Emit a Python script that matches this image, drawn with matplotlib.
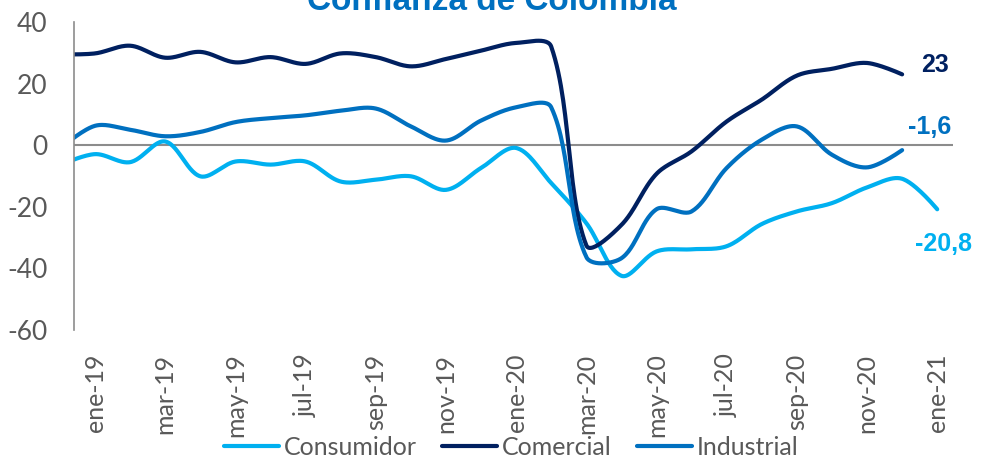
import numpy as np
import matplotlib
matplotlib.use("Agg")
import matplotlib.pyplot as plt

# indices de confianza (balance %), dic-18 queda recortado por el eje
meses = ['dic-18', 'ene-19', 'feb-19', 'mar-19', 'abr-19', 'may-19', 'jun-19',
         'jul-19', 'ago-19', 'sep-19', 'oct-19', 'nov-19', 'dic-19', 'ene-20',
         'feb-20', 'mar-20', 'abr-20', 'may-20', 'jun-20', 'jul-20', 'ago-20',
         'sep-20', 'oct-20', 'nov-20', 'dic-20', 'ene-21']
consumidor = [-6.5, -2.9, -5.5, 1.2, -10.1, -5.3, -6.3, -5.3, -11.8, -11.2,
              -10.1, -14.5, -7.4, -0.9, -12.3, -25.3, -42.4, -34.5, -33.8,
              -32.8, -25.6, -21.5, -18.8, -13.7, -10.9, -20.8]
comercial = [29.5, 29.8, 32.3, 28.4, 30.3, 26.9, 28.6, 26.4, 29.8, 28.6,
             25.6, 28.0, 30.7, 33.2, 32.0, -32.5, -25.9, -9.3, -2.0, 7.7,
             14.8, 22.6, 24.8, 26.7, 23.0]
industrial = [-1.2, 6.3, 5.0, 2.9, 4.3, 7.5, 8.8, 9.7, 11.2, 11.9, 6.1, 1.5,
              8.0, 12.3, 12.3, -36.3, -36.7, -20.8, -21.5, -7.4, 1.8, 6.1,
              -3.1, -7.2, -1.6]
etiquetas_fin = ['-20,8', '23', '-1,6']

C_CONS = '#00B0F0'
C_COM = '#002060'
C_IND = '#0070C0'
GRIS = '#595959'

PX_X, PX_Y = 35.1, 3.08   # pixeles por mes / por punto, para medir distancias


def suavizar(x, y, n=30, k=0.5):
    # bezier tipo Excel: tangente proporcional a la longitud de cada tramo
    p = np.column_stack([x, y]).astype(float)
    esc = np.array([PX_X, PX_Y])

    def dist(a, b):
        return np.hypot(*((b - a) * esc))

    partes = []
    for i in range(len(p) - 1):
        p1, p2 = p[i], p[i + 1]
        p0 = p[i - 1] if i > 0 else p1
        p3 = p[i + 2] if i + 2 < len(p) else p2
        d01, d12, d23 = dist(p0, p1), dist(p1, p2), dist(p2, p3)
        f1 = k * d12 / (d01 + d12) if d01 > 0 else 0
        f2 = k * d12 / (d12 + d23) if d23 > 0 else 0
        c1 = p1 + (p2 - p0) * f1 * 2 / 3
        c2 = p2 - (p3 - p1) * f2 * 2 / 3
        t = np.linspace(0, 1, n)[:, None]
        seg = (1 - t) ** 3 * p1 + 3 * (1 - t) ** 2 * t * c1 + 3 * (1 - t) * t ** 2 * c2 + t ** 3 * p2
        partes.append(seg if i == 0 else seg[1:])
    return np.vstack(partes)


plt.rcParams['font.family'] = ['Lato', 'DejaVu Sans']
plt.rcParams['axes.unicode_minus'] = False

fig = plt.figure(figsize=(9.87, 4.62), dpi=100)
ax = fig.add_axes([74 / 987, 1 - 330 / 462, 879 / 987, 308 / 462])

x_all = np.arange(-1, len(meses) - 1)
series = [('Consumidor', consumidor, C_CONS),
          ('Comercial', comercial, C_COM),
          ('Industrial', industrial, C_IND)]
for nombre, vals, col in series:
    xs = x_all[:len(vals)]
    c = suavizar(xs, vals)
    ax.plot(c[:, 0], c[:, 1], color=col, lw=3, label=nombre, solid_capstyle='round')

ax.axhline(0, color='#8c8c8c', lw=1.5, zorder=0)

ax.set_xlim(-0.6, 24.45)
ax.set_ylim(-60, 40)
ax.set_yticks(range(-60, 41, 20))
ax.set_xticks(x_all[1::2])
ax.set_xticklabels(meses[1::2], rotation=90)
ax.tick_params(axis='x', length=0, pad=17, labelsize=18, labelcolor=GRIS)
ax.tick_params(axis='y', length=0, pad=19, labelsize=19, labelcolor=GRIS)
for s in ['top', 'right', 'bottom']:
    ax.spines[s].set_visible(False)
ax.spines['left'].set_color('#8c8c8c')
ax.spines['left'].set_linewidth(1.2)

# valores finales
offsets = [(-16, -25), (14, 7), (4, 17)]
for (nombre, vals, col), txt, off in zip(series, etiquetas_fin, offsets):
    ax.annotate(txt, xy=(x_all[len(vals) - 1], vals[-1]), xytext=off,
                textcoords='offset points', ha='left', va='center',
                color=col, fontsize=18, fontweight='bold',
                family='Liberation Sans', annotation_clip=False)

fig.text(492 / 987, 1 - 10 / 462, 'Confianza de Colombia', ha='center',
         va='baseline', fontsize=24, fontweight='bold', color=C_IND,
         family='Liberation Sans')

leg = fig.legend(loc='center', bbox_to_anchor=(0.518, 0.032), ncol=3,
                 frameon=False, fontsize=18, handlelength=2.2,
                 handletextpad=0.2, columnspacing=1.0)
for t in leg.get_texts():
    t.set_color(GRIS)

fig.savefig('out.png', dpi=100)
